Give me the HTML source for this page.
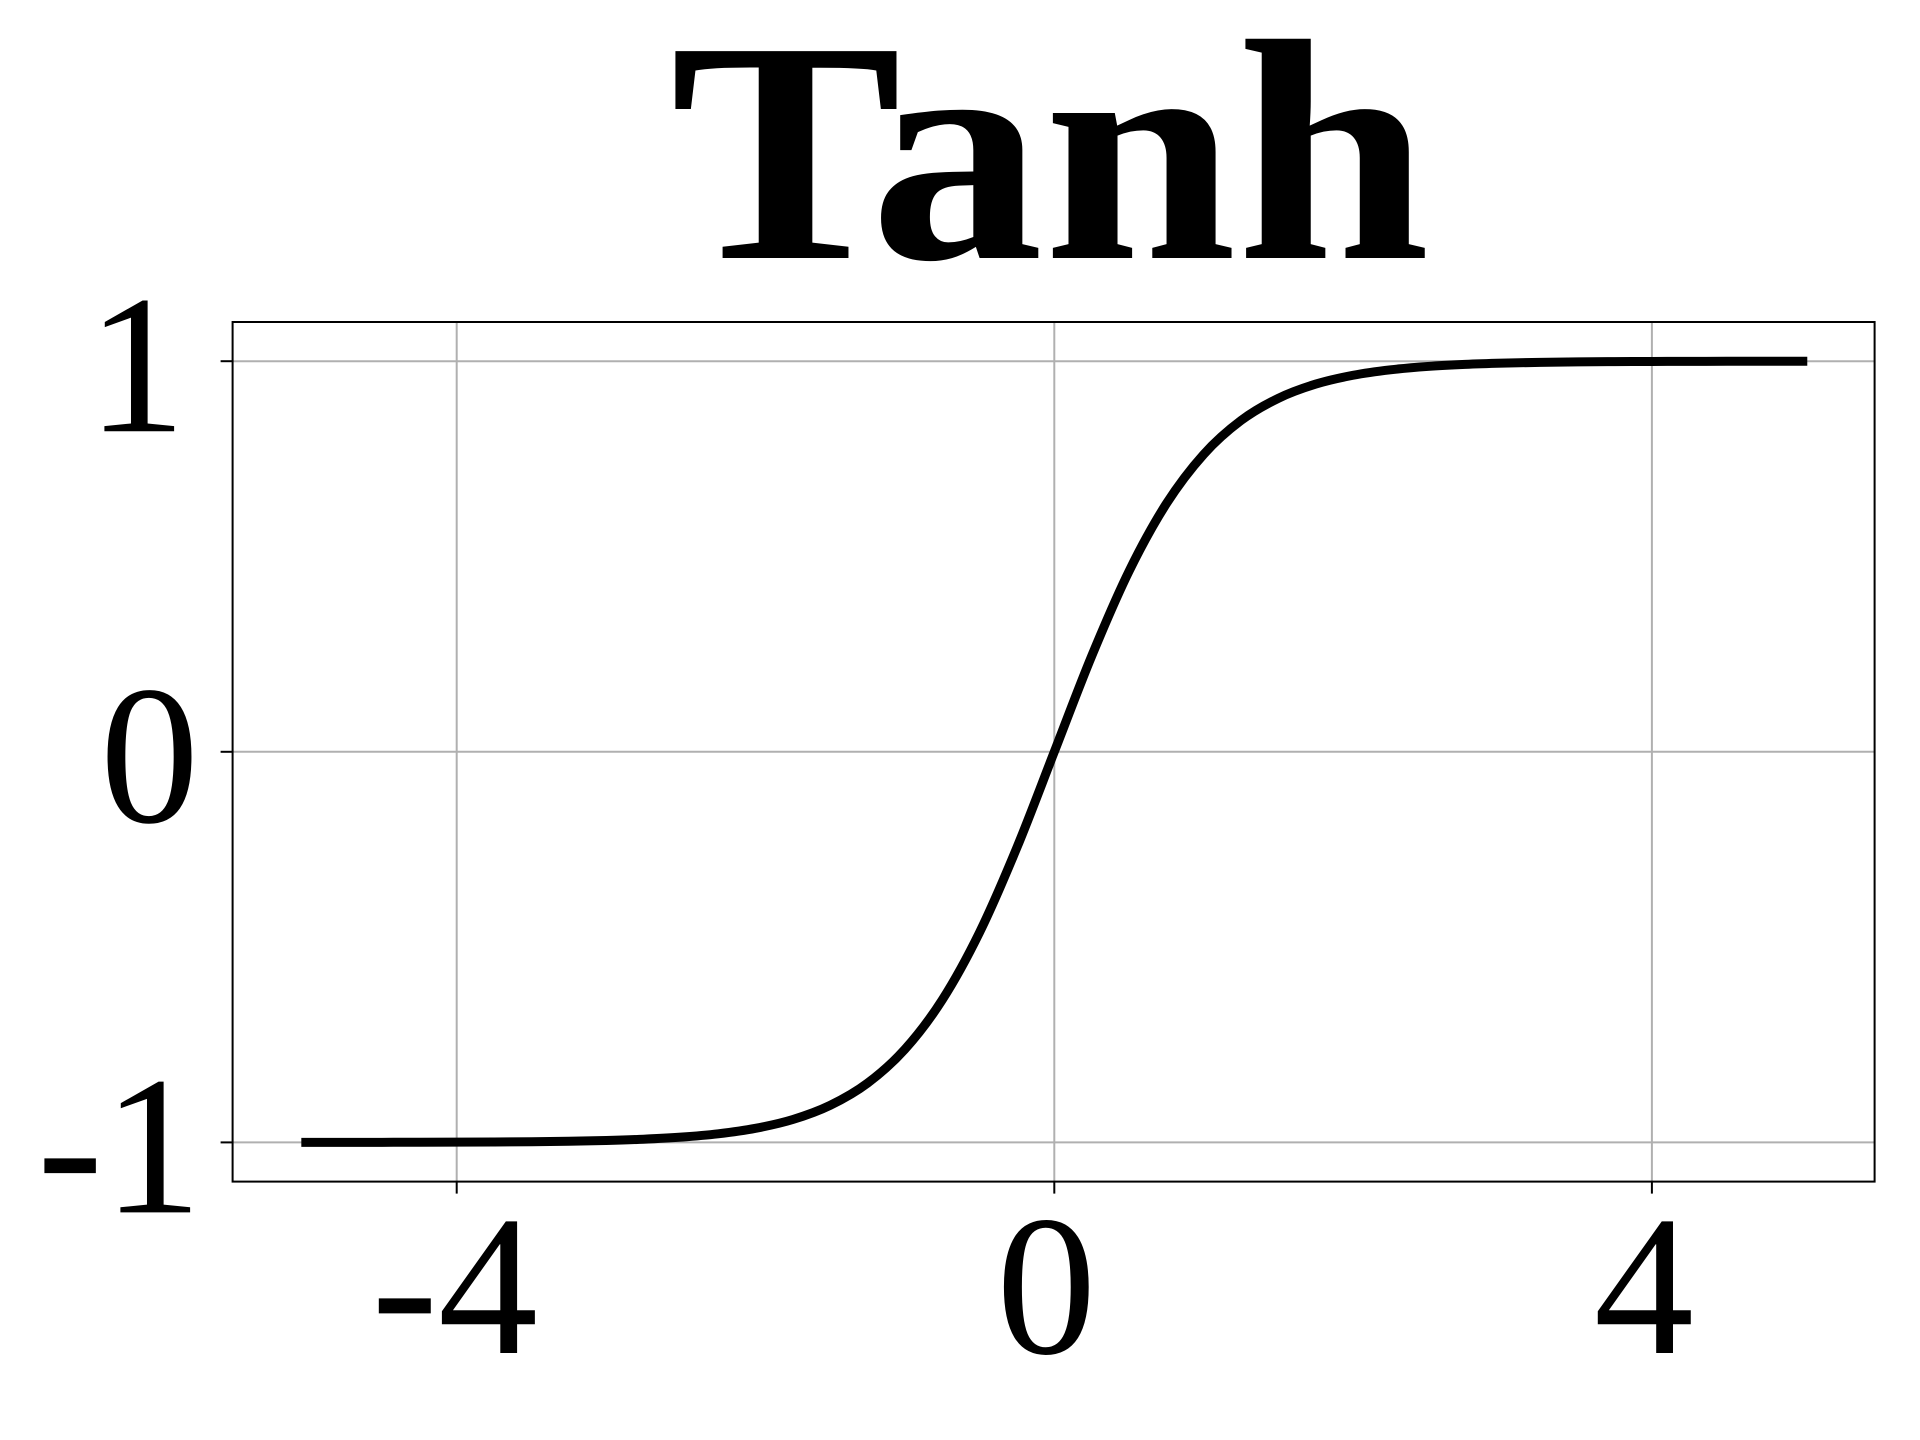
<!DOCTYPE html>
<html>
<head>
<meta charset="utf-8">
<style>
  html, body { margin: 0; padding: 0; background: #fff; }
  svg { display: block; }
  text { font-family: "Liberation Serif", "DejaVu Serif", serif; fill: #000; }
</style>
</head>
<body>
<svg id="chart" width="1920" height="1440" viewBox="0 0 1920 1440" xmlns="http://www.w3.org/2000/svg">
  <rect x="0" y="0" width="1920" height="1440" fill="#fff"></rect>
  <text x="1050" y="258" text-anchor="middle" font-size="316" font-weight="bold" textLength="760" lengthAdjust="spacingAndGlyphs">Tanh</text>
  <g id="grid"></g>
  <g id="series"></g>
  <rect x="232.6" y="322" width="1642" height="859.6" fill="none" stroke="#000" stroke-width="2"></rect>
  <g id="ticks"></g>
</svg>
<script>
const xTicks = [-4, 0, 4];
const xTickLabels = ["-4", "0", "4"];
const yTicks = [-1, 0, 1];
const yTickLabels = ["-1", "0", "1"];
const xValues = [-5.04,-4.75,-4.5,-4.25,-4,-3.75,-3.5,-3.25,-3,-2.75,-2.5,-2.25,-2,-1.75,-1.5,-1.25,-1,-0.75,-0.5,-0.25,0,0.25,0.5,0.75,1,1.25,1.5,1.75,2,2.25,2.5,2.75,3,3.25,3.5,3.75,4,4.25,4.5,4.75,5.04];
const yValues = [-0.9999,-0.9999,-0.9998,-0.9996,-0.9993,-0.9989,-0.9982,-0.9970,-0.9951,-0.9919,-0.9866,-0.9780,-0.9640,-0.9414,-0.9051,-0.8483,-0.7616,-0.6351,-0.4621,-0.2449,0,0.2449,0.4621,0.6351,0.7616,0.8483,0.9051,0.9414,0.9640,0.9780,0.9866,0.9919,0.9951,0.9970,0.9982,0.9989,0.9993,0.9996,0.9998,0.9999,0.9999];

const NS = "http://www.w3.org/2000/svg";
const plotL = 232.6, plotR = 1874.6, plotT = 322, plotB = 1181.6;
function xScale(v) { return 1054.3 + v * 149.4; }
function yScale(v) { return 751.8 - v * 390.6; }
function mk(tag, attrs, parent) {
  const e = document.createElementNS(NS, tag);
  for (const k in attrs) e.setAttribute(k, attrs[k]);
  parent.appendChild(e);
  return e;
}
const grid = document.getElementById('grid');
const ticks = document.getElementById('ticks');
const series = document.getElementById('series');

xTicks.forEach((t, i) => {
  const x = xScale(t);
  const g = mk('line', {x1: x, x2: x, y1: plotT, y2: plotB, stroke: '#b0b0b0', 'stroke-width': 2}, grid);
  
  
  const tk = mk('line', {x1: x, x2: x, y1: plotB, y2: plotB + 12, stroke: '#000', 'stroke-width': 2}, ticks);
  
  
  const lb = mk('text', {x: x - (t < 0 ? 2 : 8), y: 1353, 'text-anchor': 'middle', 'font-size': 200}, ticks);
  lb.textContent = xTickLabels[i];
  
  
});
yTicks.forEach((t, i) => {
  const y = yScale(t);
  const g = mk('line', {x1: plotL, x2: plotR, y1: y, y2: y, stroke: '#b0b0b0', 'stroke-width': 2}, grid);
  
  
  const tk = mk('line', {x1: plotL - 12, x2: plotL, y1: y, y2: y, stroke: '#000', 'stroke-width': 2}, ticks);
  
  
  const lb = mk('text', {x: t < 0 ? 202 : (t > 0 ? 186 : 199), y: y + 70, 'text-anchor': 'end', 'font-size': 198}, ticks);
  lb.textContent = yTickLabels[i];
  
  
});

// smooth curve via Catmull-Rom
const pts = xValues.map((x, i) => [xScale(x), yScale(yValues[i])]);
let d = 'M' + pts[0][0] + ' ' + pts[0][1];
for (let i = 0; i < pts.length - 1; i++) {
  const p0 = pts[Math.max(0, i - 1)], p1 = pts[i], p2 = pts[i + 1], p3 = pts[Math.min(pts.length - 1, i + 2)];
  const c1x = p1[0] + (p2[0] - p0[0]) / 6, c1y = p1[1] + (p2[1] - p0[1]) / 6;
  const c2x = p2[0] - (p3[0] - p1[0]) / 6, c2y = p2[1] - (p3[1] - p1[1]) / 6;
  d += ' C' + c1x + ' ' + c1y + ' ' + c2x + ' ' + c2y + ' ' + p2[0] + ' ' + p2[1];
}
const line = mk('path', {d: d, fill: 'none', stroke: '#000', 'stroke-width': 9}, series);


</script>
</body>
</html>
